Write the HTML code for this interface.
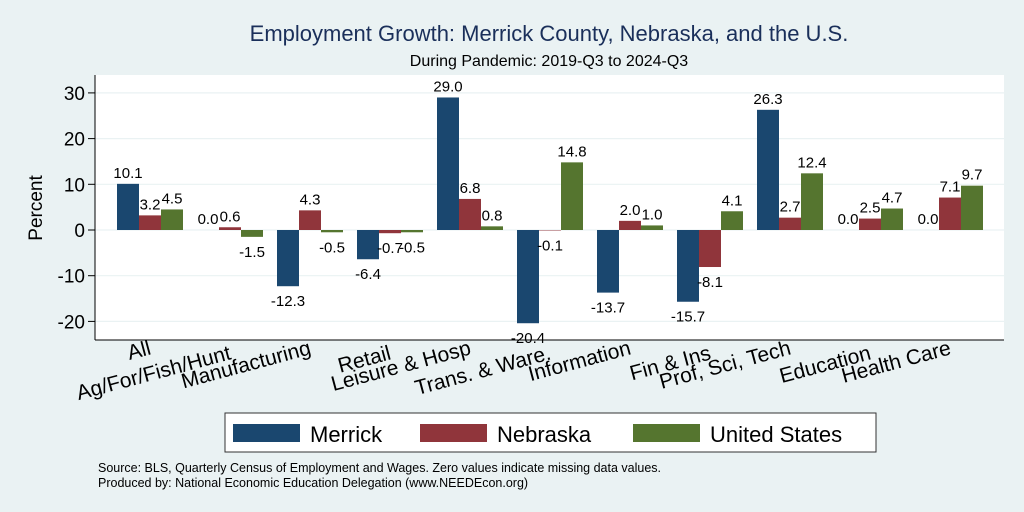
<!DOCTYPE html>
<html><head><meta charset="utf-8"><style>
body{margin:0;background:#eaf2f3;}
svg{display:block;font-family:"Liberation Sans",Arial,sans-serif;}
</style></head><body>
<svg id="c" width="1024" height="512">
<rect width="1024" height="512" fill="#eaf2f3"/>
<text x="549" y="41" text-anchor="middle" font-size="22" fill="#1a2f5a">Employment Growth: Merrick County, Nebraska, and the U.S.</text>
<text x="549" y="66" text-anchor="middle" font-size="16" fill="#000">During Pandemic: 2019-Q3 to 2024-Q3</text>
<rect x="95" y="75" width="909" height="265" fill="#fff"/>
<g id="grid"></g><g id="bars"></g><g id="labels"></g><g id="ax"></g>
<line x1="95" y1="75" x2="95" y2="340" stroke="#000"/>
<line x1="95" y1="340" x2="1004" y2="340" stroke="#000"/>
<text transform="translate(42,208) rotate(-90)" text-anchor="middle" font-size="19">Percent</text>
<g>
<rect x="225" y="413" width="651" height="39" fill="#fff" stroke="#333"/>
<rect x="233" y="424" width="67" height="18" fill="#1a476f"/>
<text x="310" y="442" font-size="22">Merrick</text>
<rect x="420" y="424" width="67" height="18" fill="#90353b"/>
<text x="497" y="442" font-size="22">Nebraska</text>
<rect x="633" y="424" width="67" height="18" fill="#55752f"/>
<text x="710" y="442" font-size="22">United States</text>
</g>
<text x="98" y="472" font-size="12.5">Source: BLS, Quarterly Census of Employment and Wages. Zero values indicate missing data values.</text>
<text x="98" y="487" font-size="12.5">Produced by: National Economic Education Delegation (www.NEEDEcon.org)</text>
</svg>
<script>
const categories=["All","Ag/For/Fish/Hunt","Manufacturing","Retail","Leisure & Hosp","Trans. & Ware.","Information","Fin & Ins","Prof, Sci, Tech","Education","Health Care"];
const merrick=[10.1,0.0,-12.3,-6.4,29.0,-20.4,-13.7,-15.7,26.3,0.0,0.0];
const nebraska=[3.2,0.6,4.3,-0.7,6.8,-0.1,2.0,-8.1,2.7,2.5,7.1];
const us=[4.5,-1.5,-0.5,-0.5,0.8,14.8,1.0,4.1,12.4,4.7,9.7];
const yTicks=[-20,-10,0,10,20,30];
const NS="http://www.w3.org/2000/svg";
const y=v=>230-v*4.57;
const gx=i=>117+80*i;
function mk(tag,attrs,parent,txt){const e=document.createElementNS(NS,tag);for(const k in attrs)e.setAttribute(k,attrs[k]);if(txt!==undefined)e.textContent=txt;document.getElementById(parent).appendChild(e);return e;}
yTicks.forEach(t=>{
 const g=mk("line",{x1:95,x2:1004,y1:y(t),y2:y(t),stroke:"#eaf2f3","stroke-width":1.2},"grid");
 
 
 const tk=mk("line",{x1:88,x2:95,y1:y(t),y2:y(t),stroke:"#000"},"ax");
 
 
 const tl=mk("text",{x:85,y:y(t)+7,"text-anchor":"end","font-size":19},"ax",String(t));
 
 
});
const series=[[merrick,"#1a476f","merrick"],[nebraska,"#90353b","nebraska"],[us,"#55752f","us"]];
categories.forEach((c,i)=>{
 series.forEach(([arr,col,nm],s)=>{
  const v=arr[i];const x=gx(i)+22*s;
  const r=mk("rect",{x:x,y:Math.min(y(v),y(0)),width:22,height:Math.abs(y(v)-y(0)),fill:col},"bars");
  
  
  const ly=v>=0?y(v)-6:y(v)+20;
  const t=mk("text",{x:x+11,y:ly,"text-anchor":"middle","font-size":15},"labels",v.toFixed(1));
  
  
 });
 const cx=gx(i)+33, cy=(i%2===0)?354:359;
 const l=mk("text",{x:0,y:0,"text-anchor":"end","font-size":21,transform:`translate(${cx+2},${cy}) rotate(-15)`},"ax",c);
 
 
});
</script>
</body></html>
